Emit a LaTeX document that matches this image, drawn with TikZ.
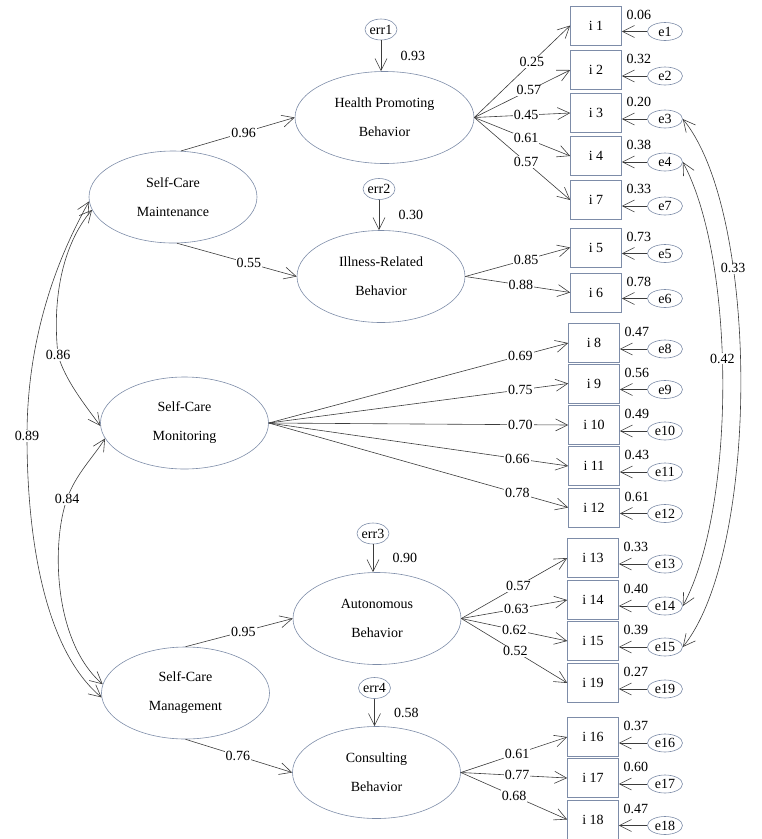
\documentclass[tikz,border=0pt]{standalone}
\usepackage{fontspec}
\setmainfont{Liberation Serif}
\usetikzlibrary{shapes.geometric,arrows.meta,positioning}
\definecolor{shapeline}{RGB}{125,140,168}
\definecolor{pathline}{RGB}{60,60,60}

\begin{document}
\begin{tikzpicture}[x=1pt, y=-1pt, ->, >={Straight Barb[length=12pt,width=12pt]},
  color=pathline, text=black, line width=0.6pt, font=\fontsize{14}{16}\selectfont]
  \tikzstyle{latent}=[ellipse, draw=shapeline, minimum width=168pt, minimum height=92pt, align=center, font=\fontsize{14}{29}\selectfont]
  \tikzstyle{indic}=[rectangle, draw=shapeline, minimum width=51pt, minimum height=39pt, inner sep=0pt]
  \tikzstyle{resid}=[ellipse, draw=shapeline, minimum width=35pt, minimum height=18pt, inner sep=0pt]
  \tikzstyle{disturb}=[ellipse, draw=shapeline, minimum width=32pt, minimum height=21pt, inner sep=0pt]
  \tikzstyle{lbl}=[fill=white, inner sep=1pt]

  \useasboundingbox (0,0) rectangle (762,839);

  % first and second order factors
  \node[latent] (maint) at (173,197) {Self-Care\\Maintenance};
  \node[latent] (mon) at (184.5,423) {Self-Care\\Monitoring};
  \node[latent] (mgmt) at (185.5,693) {Self-Care\\Management};
  \node[latent, minimum width=179pt] (hpb) at (384.5,117.5) {Health Promoting\\Behavior};
  \node[latent] (irb) at (381,276.5) {Illness-Related\\Behavior};
  \node[latent] (auto) at (377,618.5) {Autonomous\\Behavior};
  \node[latent] (cons) at (376.5,772.5) {Consulting\\Behavior};

  \node[disturb] (err1) at (381,29.5) {err1};
  \node[disturb] (err2) at (379,189) {err2};
  \node[disturb] (err3) at (373,533.5) {err3};
  \node[disturb] (err4) at (374.5,688) {err4};

  % items and residuals
  \foreach \n/\x/\y/\v in {1/596/25.5/0.06, 2/596/70/0.32, 3/596/113/0.20, 4/596/156/0.38,
      7/596/200/0.33, 5/596/247.5/0.73, 6/596/292.5/0.78, 8/594/343/0.47, 9/594/383.5/0.56,
      10/594/425/0.49, 11/594/466/0.43, 12/594/507.5/0.61, 13/593/558/0.33, 14/593/600/0.40,
      15/593/641/0.39, 19/593/683/0.27, 16/593/737/0.37, 17/593/778/0.60, 18/593/819.5/0.47} {
    \node[indic] (i\n) at (\x,\y) {i \n};
    \node[resid] (e\n) at (665,\y+6) {e\n};
    \node at ([xshift=17pt,yshift=-9pt]i\n.north east) {\v};
    \path (e\n) edge (e\n -| i\n.east);
  }

  % loadings
  \foreach \src/\n/\w/\p in {hpb/1/0.25/.6, hpb/2/0.57/.57, hpb/3/0.45/.54, hpb/4/0.61/.54,
      hpb/7/0.57/.54, irb/5/0.85/.58, irb/6/0.88/.53, mon/8/0.69/.84, mon/9/0.75/.84,
      mon/10/0.70/.84, mon/11/0.66/.83, mon/12/0.78/.83, auto/13/0.57/.54, auto/14/0.63/.52,
      auto/15/0.62/.5, auto/19/0.52/.51, cons/16/0.61/.53, cons/17/0.77/.53, cons/18/0.68/.5}
    \path (\src.east) edge node[lbl,pos=\p] {\w} (i\n.west);

  \path (maint.80) edge node[lbl,pos=.55] {0.96} (hpb.west);
  \path (maint.-85) edge node[lbl,pos=.6] {0.55} (irb.west);
  \path (mgmt.north) edge node[lbl,pos=.54] {0.95} (auto.west);
  \path (mgmt.south) edge node[lbl,pos=.49] {0.76} (cons.west);

  \path (err1) edge node[right=16pt] {0.93} (err1 |- hpb.north);
  \path (err2) edge node[right=16pt] {0.30} (err2 |- irb.north);
  \path (err3) edge node[right=16pt] {0.90} (err3 |- auto.north);
  \path (err4) edge node[right=16pt] {0.58} (err4 |- cons.north);

  % covariances
  \draw[<->] (maint.183) .. controls (45,280) and (27,360) .. (27,436) node[lbl] {0.89}
    .. controls (27,540) and (45,650) .. (mgmt.183);
  \draw[<->] (maint.189) .. controls (62,245) and (52,300) .. (58,355) node[lbl] {0.86}
    .. controls (65,380) and (85,405) .. (mon.182);
  \draw[<->] (mon.191) .. controls (95,455) and (75,475) .. (67,499) node[lbl] {0.84}
    .. controls (52,540) and (52,640) .. (mgmt.174);
  \draw[<->] (e3.east) .. controls (760,213) and (760,551) .. (e15.east) node[lbl,pos=.32] {0.33};
  \draw[<->] (e4.east) .. controls (736,261) and (736,508) .. (e14.east) node[lbl,pos=.45] {0.42};
\end{tikzpicture}
\end{document}
